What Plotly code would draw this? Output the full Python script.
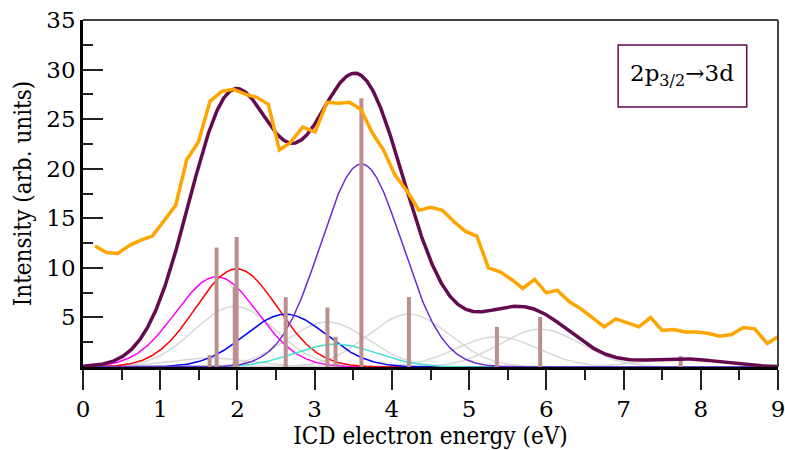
import numpy as np
import plotly.graph_objects as go

# Stick spectrum (energy in eV, intensity)
stick_energy = [1.64, 1.73, 1.965, 1.99, 2.625, 3.165, 3.27, 3.605, 4.22, 5.36, 5.92, 7.74]
stick_height = [1.2, 12.05, 8.1, 13.1, 7.05, 6.0, 3.05, 27.1, 7.05, 4.05, 5.05, 1.1]
stick_color = ["#d8d8d8", "#ff00ff", "#d8d8d8", "#ff0000", "#0000ff", "#d8d8d8",
               "#40e0d0", "#6a2cd0", "#d8d8d8", "#d8d8d8", "#d8d8d8", "#d8d8d8"]
broadening_sigma = 0.528  # Gaussian broadening width (eV)

# Experimental spectrum (orange)
exp_energy = [0.155, 0.307, 0.449, 0.609, 0.751, 0.898, 1.04, 1.2, 1.343, 1.494, 1.645, 1.797,
              1.947, 2.107, 2.25, 2.40, 2.543, 2.68, 2.846, 3.005, 3.16, 3.307, 3.45, 3.597,
              3.748, 3.89, 4.04, 4.2, 4.35, 4.5, 4.654, 4.806, 4.948, 5.1, 5.25, 5.40, 5.55,
              5.695, 5.848, 6.0, 6.14, 6.3, 6.46, 6.61, 6.75, 6.9, 7.05, 7.2, 7.35, 7.5, 7.65,
              7.8, 7.95, 8.1, 8.25, 8.4, 8.55, 8.7, 8.86, 9.0]
exp_intensity = [12.2, 11.55, 11.45, 12.29, 12.8, 13.2, 14.65, 16.3, 20.9, 22.7, 26.8, 27.8,
                 28.0, 27.5, 27.2, 26.5, 21.9, 22.6, 24.2, 23.7, 26.7, 26.6, 26.7, 26.0,
                 23.6, 21.9, 19.35, 17.7, 15.8, 16.1, 15.8, 14.65, 13.7, 13.2, 10.0, 9.6, 8.83,
                 7.92, 8.83, 7.48, 7.75, 6.57, 5.8, 4.85, 4.05, 4.85, 4.49, 4.05, 4.99, 3.68, 3.78,
                 3.54, 3.54, 3.38, 3.11, 3.28, 3.98, 3.85, 2.37, 3.04]

x_ticks = [0, 1, 2, 3, 4, 5, 6, 7, 8, 9]
y_ticks = [5, 10, 15, 20, 25, 30, 35]

FONT = "DejaVu Serif"
TITLE_FONT = "DejaVu Serif Condensed, DejaVu Serif"
TOTAL_COLOR = "#650a4e"

grid = np.linspace(0, 9, 901)
norm = 1.0 / (broadening_sigma * np.sqrt(2 * np.pi))

fig = go.Figure()
components = []
order = [i for i, c in enumerate(stick_color) if c == "#d8d8d8"] + \
        [i for i, c in enumerate(stick_color) if c != "#d8d8d8"]
for i in order:
    g = stick_height[i] * norm * np.exp(-(grid - stick_energy[i]) ** 2 / (2 * broadening_sigma ** 2))
    fig.add_trace(go.Scatter(x=grid, y=g, mode="lines",
                             line=dict(color=stick_color[i], width=1.5),
                             showlegend=False, hoverinfo="skip"))
    components.append(g)
total = np.sum(components, axis=0)

# sticks as vertical segments
sx, sy = [], []
for e, h in zip(stick_energy, stick_height):
    sx += [e, e, None]
    sy += [0, h, None]
fig.add_trace(go.Scatter(x=sx, y=sy, mode="lines",
                         line=dict(color="#bc8f8f", width=4),
                         showlegend=False, hoverinfo="skip"))

fig.add_trace(go.Scatter(x=grid, y=total, mode="lines",
                         line=dict(color=TOTAL_COLOR, width=3.5),
                         showlegend=False))
fig.add_trace(go.Scatter(x=exp_energy, y=exp_intensity, mode="lines",
                         line=dict(color="#ffa500", width=3.5),
                         showlegend=False))

fig.update_layout(
    width=785, height=450,
    margin=dict(l=83, r=7, t=20, b=83),
    plot_bgcolor="white", paper_bgcolor="white",
    font=dict(family=FONT, size=23, color="black"),
    showlegend=False,
)
fig.update_xaxes(
    range=[0, 9], tickvals=x_ticks, ticktext=[str(t) for t in x_ticks],
    ticks="outside", ticklen=20, tickwidth=2, tickcolor="#222",
    minor=dict(dtick=0.5, tick0=0, ticks="outside", ticklen=10, tickwidth=2, tickcolor="#222"),
    showline=True, linecolor="black", linewidth=2.5, showgrid=False, zeroline=False,
    tickfont=dict(family=FONT, size=23), automargin=False, ticklabeloverflow="allow",
    title=dict(text="ICD electron energy (eV)", font=dict(family=TITLE_FONT, size=24), standoff=0),
)
fig.update_yaxes(
    range=[0, 35], tickvals=y_ticks, ticktext=[str(t) for t in y_ticks],
    ticks="inside", ticklen=20, tickwidth=2, tickcolor="#222",
    minor=dict(dtick=2.5, tick0=0, ticks="inside", ticklen=10, tickwidth=2, tickcolor="#222"),
    showline=True, linecolor="black", linewidth=2.5, showgrid=False, zeroline=False,
    tickfont=dict(family=FONT, size=23), automargin=False, ticklabeloverflow="allow",
    title=dict(text="Intensity (arb. units)", font=dict(family=TITLE_FONT, size=24), standoff=8),
)

# frame: top and right
fig.add_shape(type="line", xref="paper", yref="paper", x0=0, x1=1, y0=1, y1=1,
              line=dict(color="black", width=1.5))
fig.add_shape(type="line", xref="paper", yref="paper", x0=1, x1=1, y0=0, y1=1,
              line=dict(color="#444", width=2))

# label box
fig.add_shape(type="rect", xref="paper", yref="paper", x0=0.770, x1=0.955, y0=0.749, y1=0.928,
              line=dict(color=TOTAL_COLOR, width=1.5), fillcolor="white")
fig.add_annotation(xref="paper", yref="paper", x=0.8625, y=0.842, xanchor="center", yanchor="middle",
                   text="2p<sub>3/2</sub>→3d", showarrow=False,
                   font=dict(family=FONT, size=23, color="black"))

fig.write_html("out.html")
